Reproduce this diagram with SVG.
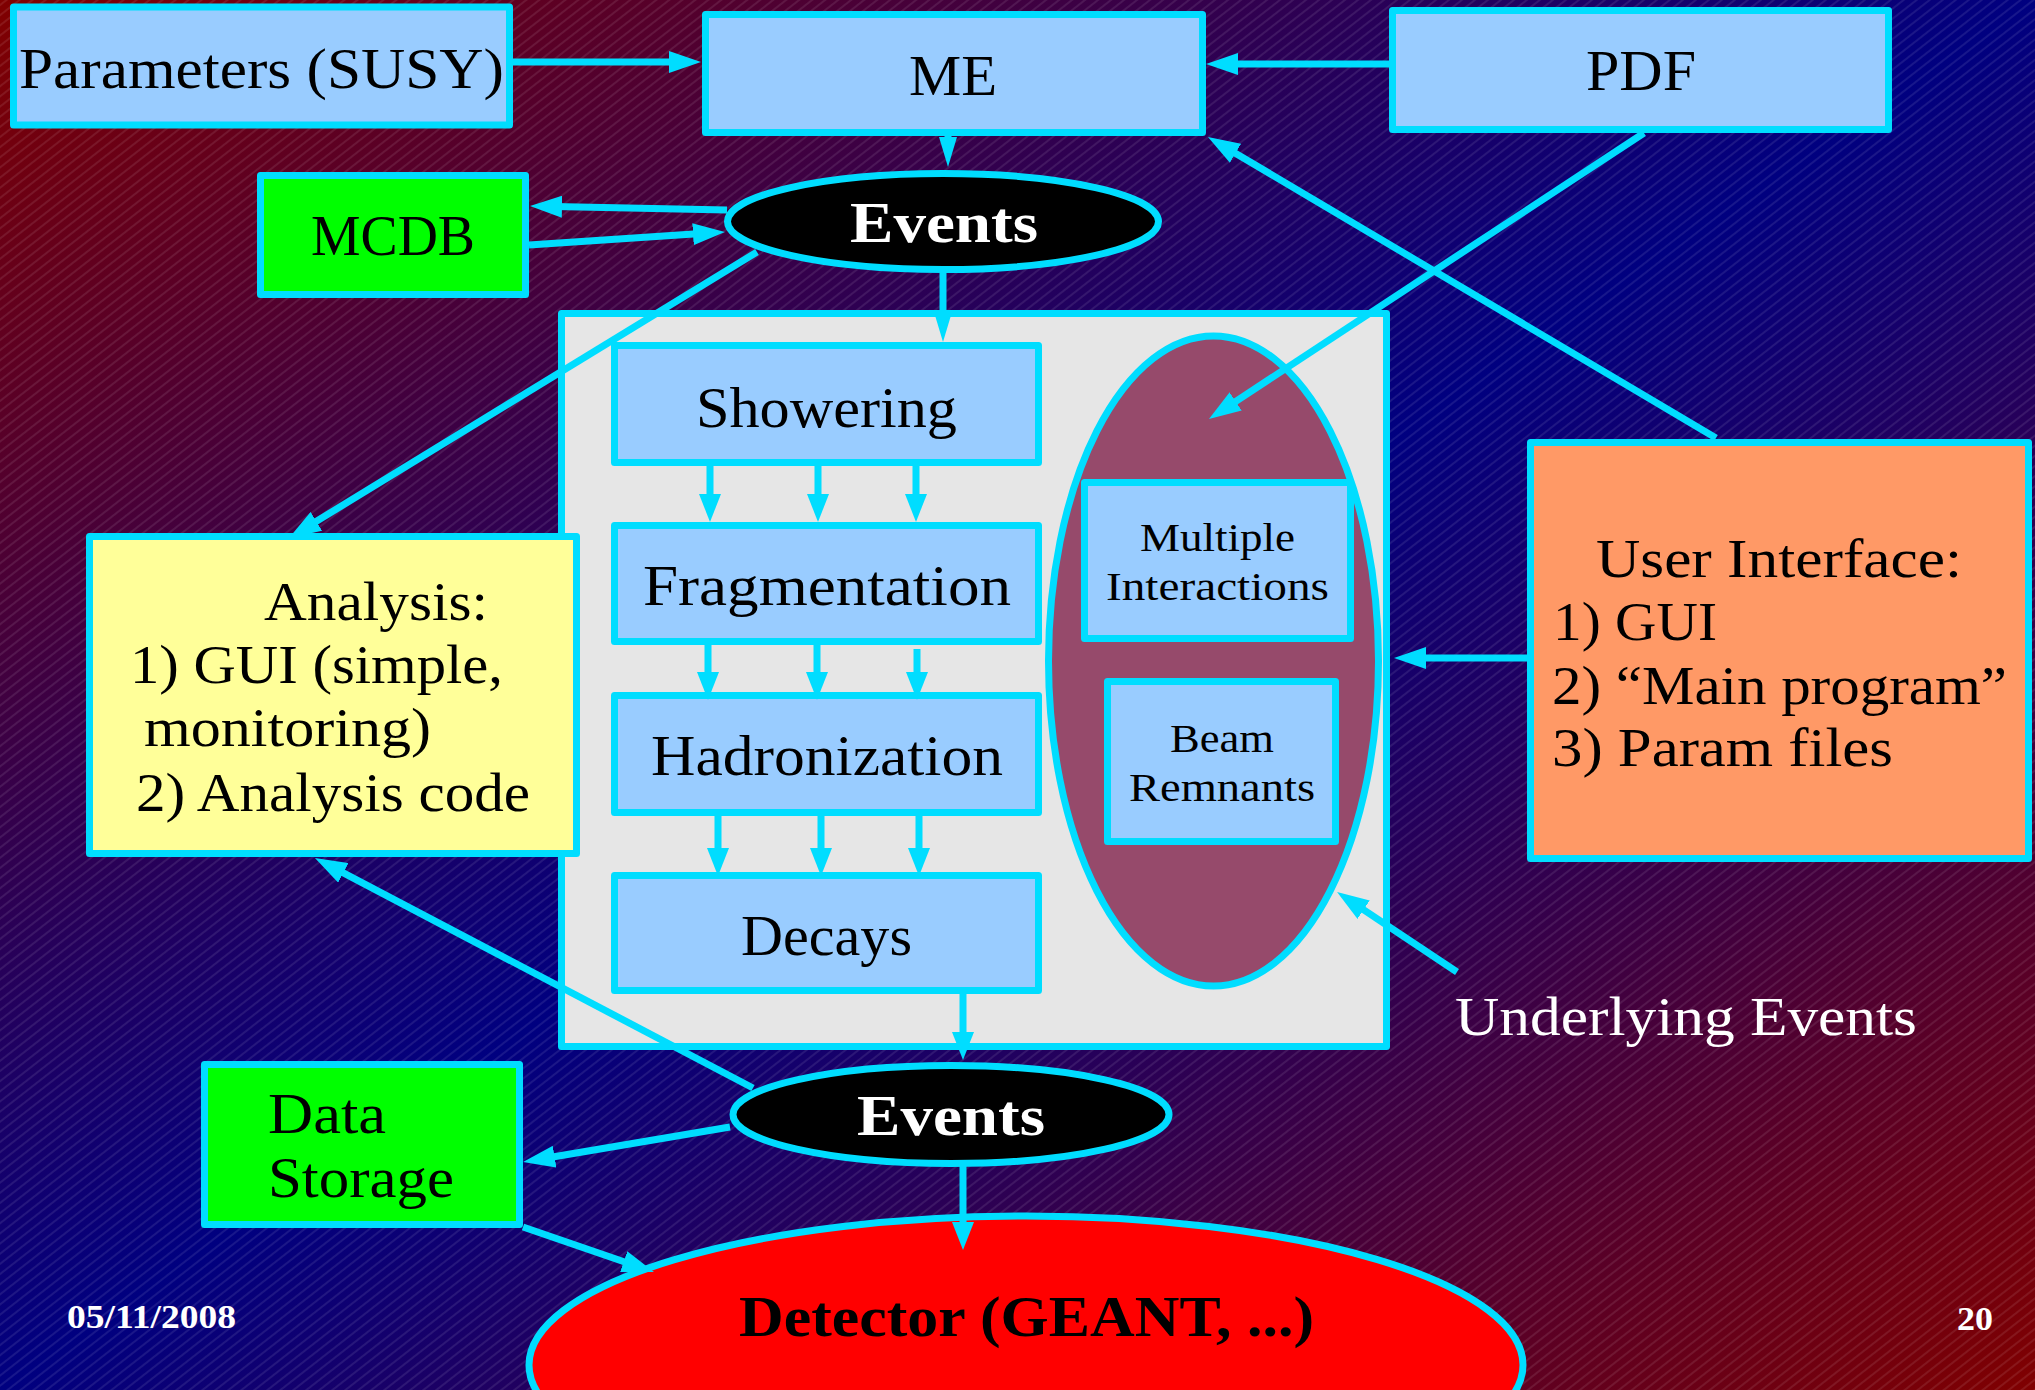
<svg xmlns="http://www.w3.org/2000/svg" width="2035" height="1390" viewBox="0 0 2035 1390">
<defs>
<linearGradient id="bg" x1="0" y1="0" x2="1" y2="1">
<stop offset="0" stop-color="#800000"/>
<stop offset="0.5" stop-color="#000080"/>
<stop offset="1" stop-color="#800000"/>
</linearGradient>
<pattern id="hatch" patternUnits="userSpaceOnUse" width="16" height="8" patternTransform="rotate(-38)">
<line x1="0" y1="4" x2="16" y2="4" stroke="#ffffff" stroke-opacity="0.18" stroke-width="1"/>
</pattern>
<marker id="ah" viewBox="0 0 32 22" refX="8" refY="11" markerWidth="32" markerHeight="22" markerUnits="userSpaceOnUse" orient="auto"><path d="M0,0 L32,11 L0,22 Z" fill="#00DDFF"/></marker>
<marker id="ahn" viewBox="0 0 30 18" refX="8" refY="9" markerWidth="30" markerHeight="18" markerUnits="userSpaceOnUse" orient="auto"><path d="M0,0 L30,9 L0,18 Z" fill="#00DDFF"/></marker>
<marker id="ahv" viewBox="0 0 28 22" refX="8" refY="11" markerWidth="28" markerHeight="22" markerUnits="userSpaceOnUse" orient="auto"><path d="M0,0 L28,11 L0,22 Z" fill="#00DDFF"/></marker>
<style>
.box{stroke:#00DDFF;stroke-width:7;stroke-linejoin:round}
.blue{fill:#99CCFF}
.green{fill:#00FF00}
.t{font-family:"Liberation Serif","Times New Roman",serif;font-size:56px;fill:#000}
.tb{font-family:"Liberation Serif","Times New Roman",serif;font-size:56px;font-weight:bold}
.ts{font-family:"Liberation Serif","Times New Roman",serif;font-size:40px;fill:#000}
.tm{font-family:"Liberation Serif","Times New Roman",serif;font-size:54px;fill:#000}
.c{stroke:#00DDFF;stroke-width:7;fill:none}
.foot{font-family:"Liberation Serif","Times New Roman",serif;font-size:34px;font-weight:bold;fill:#fff}
</style>
</defs>
<rect x="0" y="0" width="2035" height="1390" fill="url(#bg)"/>
<rect x="0" y="0" width="2035" height="1390" fill="url(#hatch)"/>

<g id="container">
<rect class="box" x="561.5" y="313.5" width="825" height="733" fill="#E6E6E6"/>
</g>
<g id="params">
<rect class="box blue" x="13.5" y="7" width="496" height="118"/>
<text class="t" x="19" y="88" textLength="485" lengthAdjust="spacingAndGlyphs">Parameters (SUSY)</text>
</g>
<g id="me">
<rect class="box blue" x="705.5" y="14.5" width="497" height="118"/>
<text class="t" x="909" y="95" textLength="88" lengthAdjust="spacingAndGlyphs">ME</text>
</g>
<g id="pdf">
<rect class="box blue" x="1392.5" y="10.5" width="496" height="119"/>
<text class="t" x="1586" y="90" textLength="110" lengthAdjust="spacingAndGlyphs">PDF</text>
</g>
<g id="mcdb">
<rect class="box green" x="260.5" y="175.5" width="265" height="119"/>
<text class="t" x="311" y="255" textLength="164" lengthAdjust="spacingAndGlyphs">MCDB</text>
</g>
<g id="events-top">
<ellipse class="box" cx="943" cy="221.5" rx="215.5" ry="48" fill="#000"/>
<text class="tb" x="850" y="242" fill="#fff" textLength="188" lengthAdjust="spacingAndGlyphs">Events</text>
</g>
<g id="showering">
<rect class="box blue" x="614.5" y="345.5" width="424" height="117"/>
<text class="t" x="696" y="427" textLength="261" lengthAdjust="spacingAndGlyphs">Showering</text>
</g>
<g id="fragmentation">
<rect class="box blue" x="614.5" y="525.5" width="424" height="116"/>
<text class="t" x="643" y="605" textLength="368" lengthAdjust="spacingAndGlyphs">Fragmentation</text>
</g>
<g id="hadronization">
<rect class="box blue" x="614.5" y="695.5" width="424" height="117"/>
<text class="t" x="651" y="775" textLength="352" lengthAdjust="spacingAndGlyphs">Hadronization</text>
</g>
<g id="decays">
<rect class="box blue" x="614.5" y="875.5" width="424" height="115"/>
<text class="t" x="741" y="955" textLength="171" lengthAdjust="spacingAndGlyphs">Decays</text>
</g>
<g id="underlying">
<ellipse class="box" cx="1213.5" cy="661" rx="165" ry="325" fill="#964A6B"/>
</g>
<g id="multiple">
<rect class="box blue" x="1084.5" y="482.5" width="266" height="156"/>
<text class="ts" x="1140" y="551" textLength="155" lengthAdjust="spacingAndGlyphs">Multiple</text>
<text class="ts" x="1106" y="600" textLength="223" lengthAdjust="spacingAndGlyphs">Interactions</text>
</g>
<g id="beam">
<rect class="box blue" x="1107.5" y="681.5" width="228" height="160"/>
<text class="ts" x="1170" y="752" textLength="104" lengthAdjust="spacingAndGlyphs">Beam</text>
<text class="ts" x="1129" y="801" textLength="186" lengthAdjust="spacingAndGlyphs">Remnants</text>
</g>
<g id="analysis">
<rect class="box" x="89.5" y="536.5" width="487" height="317" fill="#FFFF99"/>
<text class="tm" x="264" y="620" textLength="224" lengthAdjust="spacingAndGlyphs">Analysis:</text>
<text class="tm" x="130" y="683" textLength="373" lengthAdjust="spacingAndGlyphs">1) GUI (simple,</text>
<text class="tm" x="144" y="746" textLength="287" lengthAdjust="spacingAndGlyphs">monitoring)</text>
<text class="tm" x="136" y="811" textLength="394" lengthAdjust="spacingAndGlyphs">2) Analysis code</text>
</g>
<g id="ui">
<rect class="box" x="1530.5" y="442.5" width="498" height="416" fill="#FF9966"/>
<text class="tm" x="1596" y="577" textLength="366" lengthAdjust="spacingAndGlyphs">User Interface:</text>
<text class="tm" x="1553" y="640" textLength="164" lengthAdjust="spacingAndGlyphs">1) GUI</text>
<text class="tm" x="1552" y="704" textLength="455" lengthAdjust="spacingAndGlyphs">2) “Main program”</text>
<text class="tm" x="1552" y="766" textLength="341" lengthAdjust="spacingAndGlyphs">3) Param files</text>
</g>
<g id="data-storage">
<rect class="box green" x="204.5" y="1064.5" width="315" height="160"/>
<text class="t" x="268" y="1133" textLength="118" lengthAdjust="spacingAndGlyphs">Data</text>
<text class="t" x="268" y="1197" textLength="186" lengthAdjust="spacingAndGlyphs">Storage</text>
</g>
<g id="events-bottom">
<ellipse class="box" cx="951" cy="1114.5" rx="218" ry="49" fill="#000"/>
<text class="tb" x="857" y="1135" fill="#fff" textLength="188" lengthAdjust="spacingAndGlyphs">Events</text>
</g>
<g id="detector">
<ellipse class="box" cx="1026" cy="1365" rx="497" ry="149" fill="#FF0000"/>
<text class="tb" x="739" y="1336" fill="#000" textLength="575" lengthAdjust="spacingAndGlyphs">Detector (GEANT, ...)</text>
</g>
<g id="label-underlying">
<text class="tm" x="1455" y="1035" style="fill:#fff" textLength="462" lengthAdjust="spacingAndGlyphs">Underlying Events</text>
</g>

<g id="connectors">
<line class="c" x1="513" y1="62" x2="677" y2="62" marker-end="url(#ah)"/>
<line class="c" x1="1389" y1="64" x2="1230" y2="64" marker-end="url(#ah)"/>
<line class="c" x1="948" y1="132" x2="948" y2="145" marker-end="url(#ahn)"/>
<line class="c" x1="727" y1="210" x2="554" y2="206.5" marker-end="url(#ah)"/>
<line class="c" x1="529" y1="245" x2="701" y2="233.6" marker-end="url(#ah)"/>
<line class="c" x1="757" y1="252" x2="309.5" y2="525.5" marker-end="url(#ah)"/>
<line class="c" x1="943" y1="273" x2="943" y2="320" marker-end="url(#ahn)"/>
<line class="c" x1="710" y1="466" x2="710" y2="502" marker-end="url(#ahv)"/>
<line class="c" x1="818" y1="466" x2="818" y2="502" marker-end="url(#ahv)"/>
<line class="c" x1="916" y1="466" x2="916" y2="502" marker-end="url(#ahv)"/>
<line class="c" x1="708" y1="645" x2="708" y2="680" marker-end="url(#ahv)"/>
<line class="c" x1="817" y1="645" x2="817" y2="680" marker-end="url(#ahv)"/>
<line class="c" x1="917" y1="649" x2="917" y2="680" marker-end="url(#ahv)"/>
<line class="c" x1="718" y1="816" x2="718" y2="856" marker-end="url(#ahv)"/>
<line class="c" x1="821" y1="816" x2="821" y2="856" marker-end="url(#ahv)"/>
<line class="c" x1="919" y1="816" x2="919" y2="856" marker-end="url(#ahv)"/>
<line class="c" x1="963" y1="994" x2="963" y2="1040" marker-end="url(#ahv)"/>
<line class="c" x1="963" y1="1160" x2="963" y2="1230" marker-end="url(#ahv)"/>
<line class="c" x1="730" y1="1127" x2="546.7" y2="1158" marker-end="url(#ah)"/>
<line class="c" x1="523" y1="1227" x2="631.3" y2="1264.2" marker-end="url(#ah)"/>
<line class="c" x1="753" y1="1088" x2="336.2" y2="869.2" marker-end="url(#ah)"/>
<line class="c" x1="1644" y1="133" x2="1229" y2="405.8" marker-end="url(#ah)"/>
<line class="c" x1="1716" y1="438" x2="1228.6" y2="149.2" marker-end="url(#ah)"/>
<line class="c" x1="1527" y1="658" x2="1418" y2="658" marker-end="url(#ah)"/>
<line class="c" x1="1457" y1="972" x2="1357" y2="905.3" marker-end="url(#ah)"/>
</g>

<g id="footer">
<text class="foot" x="67" y="1328" textLength="169" lengthAdjust="spacingAndGlyphs">05/11/2008</text>
<text class="foot" x="1957" y="1330" textLength="36" lengthAdjust="spacingAndGlyphs">20</text>
</g>
</svg>
